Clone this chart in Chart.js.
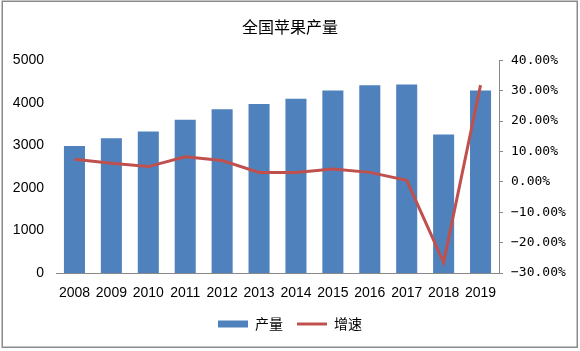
<!DOCTYPE html>
<html>
<head>
<meta charset="utf-8">
<script src="https://cdn.jsdelivr.net/npm/chart.js@4"></script>
<style>
  html, body { margin: 0; padding: 0; background: #fff; }
  #wrap { width: 580px; height: 351px; position: relative; }
</style>
</head>
<body>
<div id="wrap"><canvas id="appleChart"></canvas></div>
<script>
// data
const years = ["2008", "2009", "2010", "2011", "2012", "2013", "2014", "2015", "2016", "2017", "2018", "2019"];
const output = [2985, 3168, 3326, 3598, 3849, 3968, 4092, 4290, 4410, 4430, 3255, 4290];
const growth = [7.4, 6.1, 5.0, 8.2, 7.0, 3.1, 3.1, 4.2, 3.1, 0.5, -26.5, 31.8];

const BLUE = "#4F81BD";
const RED = "#C0504D";
const AXIS = "#898989";

Chart.defaults.font.family = "'Liberation Sans', Arial, sans-serif";
Chart.defaults.color = "#000";

// grey frame around the whole picture
const framePlugin = {
  id: "frame",
  afterDraw(chart) {
    const c = chart.ctx;
    c.save();
    c.strokeStyle = "#8a8a8a";
    c.lineWidth = 1.5;
    c.strokeRect(2.25, 1.25, 575, 346);
    c.restore();
  },
};

const ctx = document.getElementById("appleChart").getContext("2d");

new Chart(ctx, {
  data: {
    labels: years,
    datasets: [
      {
        type: "bar",
        label: "产量",
        data: output,
        backgroundColor: BLUE,
        borderWidth: 0,
        barPercentage: 0.57,
        categoryPercentage: 1,
        yAxisID: "y",
        order: 1,
      },
      {
        type: "line",
        label: "增速",
        data: growth,
        borderColor: RED,
        backgroundColor: RED,
        borderWidth: 3,
        pointRadius: 0,
        tension: 0,
        yAxisID: "y1",
        order: 0,
      },
    ],
  },
  options: {
    responsive: true,
    maintainAspectRatio: false,
    animation: false,
    layout: { padding: { left: 0, right: 0, top: 0, bottom: 10 } },
    plugins: {
      title: {
        display: true,
        text: "全国苹果产量",
        color: "#000",
        font: { family: "'Noto Sans CJK SC', sans-serif", size: 16, weight: "normal" },
        padding: { top: 17, bottom: 24 },
      },
      legend: {
        display: true,
        position: "bottom",
        labels: {
          usePointStyle: true,
          pointStyleWidth: 30,
          boxHeight: 7,
          padding: 14,
          color: "#000",
          font: { family: "'Noto Sans CJK SC', sans-serif", size: 14 },
          generateLabels: (chart) =>
            chart.data.datasets.map((ds, i) => ({
              text: ds.label,
              datasetIndex: i,
              fillStyle: ds.type === "bar" ? ds.backgroundColor : ds.borderColor,
              strokeStyle: ds.type === "bar" ? ds.backgroundColor : ds.borderColor,
              lineWidth: ds.type === "bar" ? 0 : 3,
              pointStyle: ds.type === "bar" ? "rect" : "line",
              hidden: false,
              fontColor: "#000",
            })),
        },
      },
      tooltip: { enabled: false },
    },
    scales: {
      x: {
        grid: { display: false, drawTicks: false },
        border: { display: true, color: AXIS, width: 1 },
        ticks: { font: { size: 14 }, padding: 12, maxRotation: 0 },
        afterFit: (s) => { s.height = 30; },
      },
      y: {
        position: "left",
        min: 0,
        max: 5000,
        grid: { display: false, drawTicks: false },
        border: { display: false },
        ticks: { stepSize: 1000, font: { size: 14 }, padding: 12, callback: (v) => String(v) },
        afterFit: (s) => { s.width = 56; },
      },
      y1: {
        position: "right",
        min: -30,
        max: 40,
        grid: { drawOnChartArea: false, drawTicks: true, tickLength: 4, color: AXIS },
        border: { display: true, color: AXIS, width: 1 },
        ticks: {
          stepSize: 10,
          padding: 8,
          font: { family: "'DejaVu Sans Mono', monospace", size: 13 },
          callback: (v) => (v < 0 ? "\u2212" : "") + Math.abs(v).toFixed(2) + "%",
        },
        afterFit: (s) => { s.width = 81; },
      },
    },
  },
  plugins: [framePlugin],
});
</script>
</body>
</html>
